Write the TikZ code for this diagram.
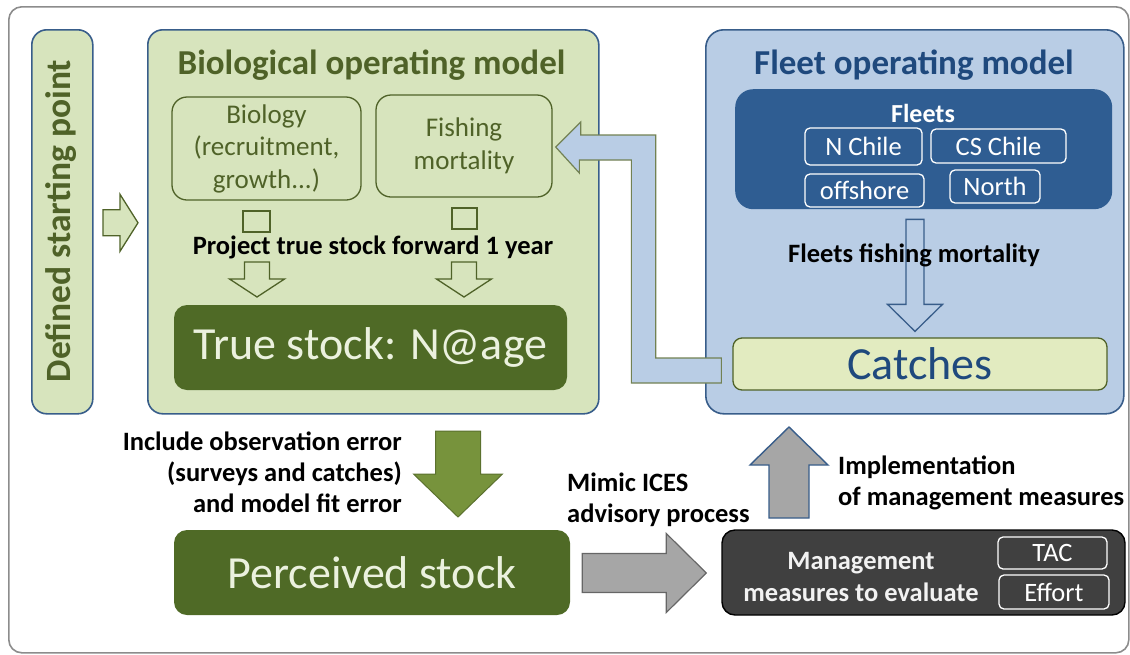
\documentclass[tikz,border=0pt]{standalone}
\usepackage{fontspec}
\setmainfont{Carlito}
\usetikzlibrary{calc}

\definecolor{biofill}{HTML}{D7E4BD}
\definecolor{biodark}{HTML}{4F6228}
\definecolor{stockfill}{HTML}{4F6A26}
\definecolor{stocktext}{HTML}{EBF1DE}
\definecolor{obsarrow}{HTML}{77933C}
\definecolor{fleetfill}{HTML}{B9CDE5}
\definecolor{panelline}{HTML}{385D8A}
\definecolor{navytext}{HTML}{1F497D}
\definecolor{fleetsbg}{HTML}{2F5D92}
\definecolor{catchfill}{HTML}{E2EBC0}
\definecolor{mgmtfill}{HTML}{404040}
\definecolor{greyarrow}{HTML}{A6A6A6}
\definecolor{framegrey}{HTML}{8C8C8C}

% block arrows: #1 style, #2 tip, #3 length, #4 shaft half width, #5 head length, #6 head half width
\newcommand\blockright[6]{\draw[#1] (#2) -- ++({-#5},{-#6}) -- ++(0,{#6-#4}) -- ++({#5-#3},0)
  -- ++(0,{2*#4}) -- ++({#3-#5},0) -- ++(0,{#6-#4}) -- cycle;}
\newcommand\blockdown[6]{\draw[#1] (#2) -- ++({-#6},{-#5}) -- ++({#6-#4},0) -- ++(0,{#5-#3})
  -- ++({2*#4},0) -- ++(0,{#3-#5}) -- ++({#6-#4},0) -- cycle;}
\newcommand\blockup[6]{\draw[#1] (#2) -- ++({-#6},{#5}) -- ++({#6-#4},0) -- ++(0,{#3-#5})
  -- ++({2*#4},0) -- ++(0,{#5-#3}) -- ++({#6-#4},0) -- cycle;}

\tikzset{
  fsz/.style n args={2}{font=\fontsize{#1}{#2}\selectfont},
  bfsz/.style n args={2}{font=\bfseries\fontsize{#1}{#2}\selectfont},
  frame/.style={draw=framegrey, line width=1.6pt, rounded corners=13pt},
  biopanel/.style={draw=panelline, line width=1.6pt, fill=biofill, rounded corners=15pt, anchor=north west},
  fleetpanel/.style={draw=panelline, line width=1.6pt, fill=fleetfill, rounded corners=18pt, anchor=north west},
  subbox/.style={draw=biodark, line width=1.3pt, rounded corners=15pt, text=biodark, align=center,
    fsz={27}{32.5}, inner sep=0pt},
  smallsq/.style={draw=biodark, line width=1.2pt, inner sep=0pt},
  stockbox/.style={fill=stockfill, rounded corners=13pt, text=stocktext, fsz={46}{52}, inner sep=0pt},
  fleetbox/.style={draw=white, line width=1.3pt, rounded corners=5pt, text=white, fsz={26.5}{30}, inner sep=0pt},
  openarrow/.style={draw=biodark, line width=1.3pt, fill=biofill},
  bluearrow/.style={draw=panelline, line width=1.3pt, fill=fleetfill},
  feedback/.style={draw=biodark!80, line width=1.2pt, fill=fleetfill},
  obsstyle/.style={draw=biodark!70!obsarrow, line width=1pt, fill=obsarrow},
  greyright/.style={draw=black!60, line width=1.2pt, fill=greyarrow},
  greyup/.style={draw=panelline, line width=1.4pt, fill=greyarrow},
  label/.style={bfsz={26.5}{31}, text=black, inner sep=0pt},
  paneltitle/.style={bfsz={35}{40}, inner sep=0pt},
}

\begin{document}
\begin{tikzpicture}[x=1pt, y=-1pt]
\useasboundingbox (0,0) rectangle (1130,654);

% outer frame
\node[frame, anchor=north west, minimum width=1120, minimum height=646] (outer) at (8,6) {};

% starting point column
\node[biopanel, minimum width=61, minimum height=384] (start) at (31,29) {};
\node[bfsz={35.5}{40}, text=biodark, rotate=90, inner sep=0pt] (starttext) at (61.5,221) {Defined starting point};

% biological operating model
\node[biopanel, minimum width=451, minimum height=384] (bio) at (147,29) {};
\node[paneltitle, text=biodark] (biotitle) at (371.5,65) {Biological operating model};
\node[subbox, minimum width=189, minimum height=103] (biology) at (266.5,148.5) {Biology\\(recruitment,\\growth...)};
\node[subbox, minimum width=176, minimum height=102] (fishing) at (464,146) {Fishing\\mortality};
\node[smallsq, minimum width=27, minimum height=21] (sqa) at (256.5,221.5) {};
\node[smallsq, minimum width=25, minimum height=21] (sqb) at (464.5,218.5) {};
\node[label] (project) at (373,247) {Project true stock forward 1 year};
\coordinate (tipa) at (257,297);
\coordinate (tipb) at (464,297);
\blockdown{openarrow}{tipa}{35}{12.5}{18}{27.5}
\blockdown{openarrow}{tipb}{35}{12.5}{18}{27.5}
\node[stockbox, minimum width=393, minimum height=85] (truestock) at (370.5,347.5) {True stock: N@age};

% arrow from starting point into the model
\coordinate (starttip) at ($(bio.west)+(-9,1)$);
\blockright{openarrow}{starttip}{35}{13}{18}{28.5}

% fleet operating model
\node[fleetpanel, minimum width=418, minimum height=384] (fleet) at (705,29) {};
\node[paneltitle, text=navytext] (fleettitle) at (914,65) {Fleet operating model};
\node[fill=fleetsbg, rounded corners=18pt, minimum width=377, minimum height=120, anchor=north west] (fleets) at (735,89) {};
\node[bfsz={26}{30}, text=white, inner sep=0pt] (fleetslabel) at (923,113) {Fleets};
\node[fleetbox, minimum width=117, minimum height=37] (nchile) at (863.5,146.5) {N Chile};
\node[fleetbox, minimum width=135, minimum height=34] (cschile) at (998.5,146) {CS Chile};
\node[fleetbox, minimum width=119, minimum height=33] (offshore) at (864.5,190.5) {offshore};
\node[fleetbox, minimum width=90, minimum height=33] (north) at (995,186.5) {North};
\node[draw=biodark, line width=1.3pt, fill=catchfill, rounded corners=9pt, minimum width=374, minimum height=52,
  text=navytext, fsz={46}{52}, inner sep=0pt] (catches) at (920,364) {Catches};
\coordinate (fmtip) at ($(catches.north)+(-5,-6)$);
\blockdown{bluearrow}{fmtip}{112}{9}{27}{27.5}
\node[label] (fmlabel) at (914,255) {Fleets fishing mortality};

% catches feed the fishing mortality of the biological model
\draw[feedback] ($(fishing.east)+(3,1)$) -- ++(25,-25) -- ++(0,13) -- ++(75,0) -- ++(0,223)
  -- ($(catches.west)+(-11,-6)$) -- ($(catches.west)+(-11,19)$) -- ++(-90,0) -- ++(0,-223)
  -- ++(-52,0) -- ++(0,13) -- cycle;

% observation step
\node[stockbox, minimum width=396, minimum height=85] (perceived) at (372,572.5) {Perceived stock};
\coordinate (obstip) at (458,517);
\blockdown{obsstyle}{obstip}{86}{22.5}{43}{44.5}
\node[label, align=right, anchor=east] (obslabel) at (402,472)
  {Include observation error\\(surveys and catches)\\and model fit error};

% management
\node[draw=black, line width=1.4pt, fill=mgmtfill, rounded corners=13pt, minimum width=403, minimum height=85] (mgmt) at (923.5,572.5) {};
\node[bfsz={26.5}{32}, text=white!95!black, align=center, inner sep=0pt] (mgmtlabel) at (861,577) {Management\\measures to evaluate};
\node[fleetbox, minimum width=109, minimum height=32] (tac) at (1052.5,553) {TAC};
\node[fleetbox, minimum width=110, minimum height=34] (effort) at (1054,592) {Effort};

\coordinate (advtip) at ($(mgmt.west)+(-15,0.5)$);
\blockright{greyright}{advtip}{124}{19.5}{40}{39.5}
\node[label, align=left, anchor=west] (advlabel) at (567,499.5) {Mimic ICES\\advisory process};

\coordinate (imptip) at (789,427);
\blockup{greyup}{imptip}{91}{20}{38}{39}
\node[label, align=left, anchor=west] (implabel) at (838,482.5) {Implementation\\of management measures};
\end{tikzpicture}
\end{document}
